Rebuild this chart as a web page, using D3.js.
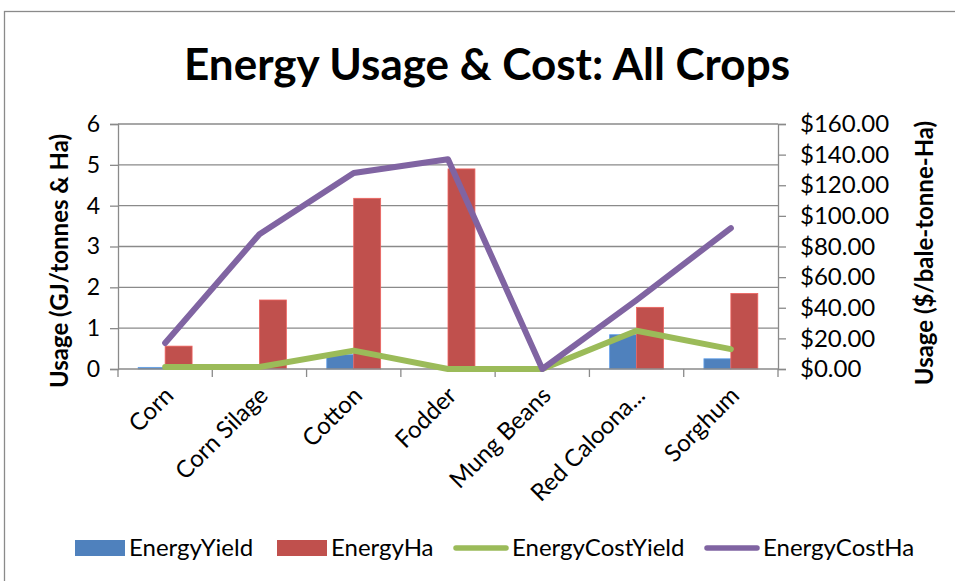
<!DOCTYPE html>
<html>
<head>
<meta charset="utf-8">
<script src="https://cdn.jsdelivr.net/npm/d3@7"></script>
<style>
  html, body { margin: 0; padding: 0; background: #fff; }
  svg { display: block; }
  text { font-family: Lato, "Open Sans", sans-serif; fill: #000; }
</style>
</head>
<body>
<svg id="chart" width="955" height="581"></svg>
<script>
// Crop categories and the four series
const categories = ["Corn", "Corn Silage", "Cotton", "Fodder", "Mung Beans", "Red Caloona...", "Sorghum"];
const energyYield = [0.04, 0, 0.35, 0, 0, 0.84, 0.25];
const energyHa = [0.56, 1.69, 4.18, 4.90, 0, 1.51, 1.85];
const energyCostYield = [1.3, 1.3, 12, 0, 0, 25, 13];
const energyCostHa = [17, 88, 128, 137, 0, 45, 92];

const leftTicks = [0, 1, 2, 3, 4, 5, 6];
const rightTicks = [0, 20, 40, 60, 80, 100, 120, 140, 160];

const seriesNames = ["EnergyYield", "EnergyHa", "EnergyCostYield", "EnergyCostHa"];
const colors = { EnergyYield: "#4F81BD", EnergyHa: "#C0504D", EnergyCostYield: "#9BBB59", EnergyCostHa: "#8064A2" };

const svg = d3.select("#chart");
const W = 955, H = 581;
const plot = { left: 118, right: 778, top: 124, bottom: 369 };
const gridColor = "#8a8a8a";

// chart frame
svg.append("rect").attr("x", 4.5).attr("y", 11.5).attr("width", W + 10).attr("height", H + 10)
  .attr("fill", "#fff").attr("stroke", "#8a8a8a").attr("stroke-width", 1.3);

// title
svg.append("text").attr("x", 487).attr("y", 80).attr("text-anchor", "middle")
  .style("font-size", "44px").style("font-weight", "bold")
  .text("Energy Usage & Cost: All Crops");

// scales
const x = d3.scaleBand().domain(categories).range([plot.left, plot.right]).padding(0);
const yL = d3.scaleLinear().domain([0, 6]).range([plot.bottom, plot.top]);
const yR = d3.scaleLinear().domain([0, 160]).range([plot.bottom, plot.top]);
const barW = x.bandwidth() / 3.5;
const inner = d3.scaleBand().domain(["EnergyYield", "EnergyHa"])
  .range([-barW, barW]).padding(0);

// horizontal gridlines
svg.append("g").selectAll("line").data(leftTicks.filter(d => d > 0)).join("line")
  .attr("x1", plot.left).attr("x2", plot.right)
  .attr("y1", d => yL(d)).attr("y2", d => yL(d))
  .attr("stroke", gridColor).attr("stroke-width", 1.3);

// left axis
const leftAxis = svg.append("g").attr("transform", `translate(${plot.left},0)`)
  .call(d3.axisLeft(yL).tickValues(leftTicks).tickSize(8).tickPadding(10).tickFormat(d3.format("d")));
leftAxis.select(".domain").attr("stroke", gridColor).attr("stroke-width", 1.3);
leftAxis.selectAll(".tick line").attr("stroke", gridColor).attr("stroke-width", 1.3);
leftAxis.selectAll(".tick text").style("font-size", "23px").style("font-family", "Lato, sans-serif").attr("fill", "#000");

// right axis
const rightAxis = svg.append("g").attr("transform", `translate(${plot.right},0)`)
  .call(d3.axisRight(yR).tickValues(rightTicks).tickSize(8).tickPadding(14)
    .tickFormat(d => "$" + d3.format(".2f")(d)));
rightAxis.select(".domain").attr("stroke", gridColor).attr("stroke-width", 1.3);
rightAxis.selectAll(".tick line").attr("stroke", gridColor).attr("stroke-width", 1.3);
rightAxis.selectAll(".tick text").style("font-size", "24px").style("font-family", "Lato, sans-serif").attr("fill", "#000");

// bars
const barData = [];
categories.forEach((c, i) => {
  barData.push({ cat: c, key: "EnergyYield", v: energyYield[i] });
  barData.push({ cat: c, key: "EnergyHa", v: energyHa[i] });
});
svg.append("g").selectAll("rect").data(barData).join("rect")
  .attr("x", d => x(d.cat) + x.bandwidth() / 2 + inner(d.key))
  .attr("width", inner.bandwidth())
  .attr("y", d => yL(d.v))
  .attr("height", d => yL(0) - yL(d.v))
  .attr("fill", d => colors[d.key])
  .attr("stroke", d => d.v > 0 ? d3.color(colors[d.key]).brighter(0.6) : "none")
  .attr("stroke-width", 0.8);

// bottom axis
const bottomAxis = svg.append("g").attr("transform", `translate(0,${plot.bottom})`);
bottomAxis.append("line").attr("x1", plot.left).attr("x2", plot.right).attr("y1", 0).attr("y2", 0)
  .attr("stroke", gridColor).attr("stroke-width", 1.3);
const boundaries = categories.map(c => x(c)).concat([plot.right]);
bottomAxis.selectAll("line.tk").data(boundaries).join("line").attr("class", "tk")
  .attr("x1", d => d).attr("x2", d => d).attr("y1", 0).attr("y2", 8)
  .attr("stroke", gridColor).attr("stroke-width", 1.3);
bottomAxis.selectAll("text").data(categories).join("text")
  .attr("transform", d => `translate(${x(d) + x.bandwidth() / 2 + 4},${22}) rotate(-45)`)
  .attr("text-anchor", "end")
  .attr("dy", "0.35em")
  .style("font-size", "24px")
  .text(d => d);

// lines
const lineGen = d3.line()
  .x((d, i) => x(categories[i]) + x.bandwidth() / 2)
  .y(d => yR(d));
[["EnergyCostYield", energyCostYield], ["EnergyCostHa", energyCostHa]].forEach(([k, vals]) => {
  svg.append("path").datum(vals).attr("d", lineGen)
    .attr("fill", "none").attr("stroke", colors[k]).attr("stroke-width", 6)
    .attr("stroke-linejoin", "round").attr("stroke-linecap", "round");
});

// axis titles
svg.append("text").attr("transform", "translate(68,261) rotate(-90)")
  .attr("text-anchor", "middle").style("font-size", "24px").style("font-weight", "bold")
  .text("Usage (GJ/tonnes & Ha)");
svg.append("text").attr("transform", "translate(933,253) rotate(-90)")
  .attr("text-anchor", "middle").style("font-size", "24px").style("font-weight", "bold")
  .text("Usage ($/bale-tonne-Ha)");

// legend
const legendX = [75, 277, 454, 705];
const legend = svg.append("g");
seriesNames.forEach((k, i) => {
  const g = legend.append("g").attr("transform", `translate(${legendX[i]},548)`);
  if (i < 2) {
    g.append("rect").attr("x", 0).attr("y", -8).attr("width", 50).attr("height", 16).attr("fill", colors[k]);
  } else {
    g.append("line").attr("x1", 2).attr("x2", 52).attr("y1", 0).attr("y2", 0)
      .attr("stroke", colors[k]).attr("stroke-width", 5.5).attr("stroke-linecap", "round");
  }
  g.append("text").attr("x", i < 2 ? 54 : 58).attr("y", 0).attr("dy", "0.35em")
    .style("font-size", "24px").text(k);
});
</script>
</body>
</html>
